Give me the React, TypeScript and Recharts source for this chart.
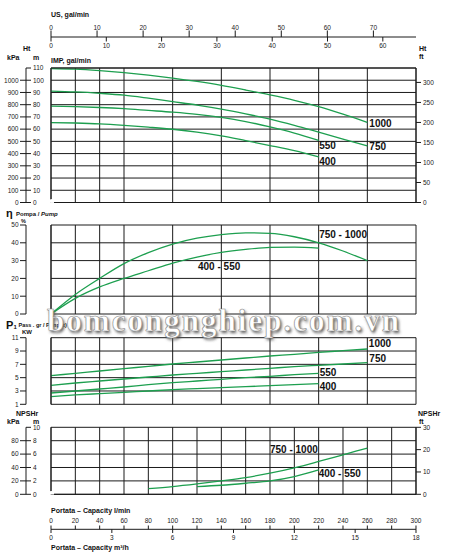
import React from "react";
import { CartesianGrid, Line, LineChart, XAxis, YAxis } from "recharts";

// Portata l/min (common x for all panels)
const qTicks = [0, 20, 40, 60, 80, 100, 120, 140, 160, 180, 200, 220, 240, 260, 280, 300];
const qLong = [0, 20, 40, 60, 80, 100, 120, 140, 160, 180, 200, 220, 240, 260];
const qShort = [0, 20, 40, 60, 80, 100, 120, 140, 160, 180, 200, 220];

// H (m)
const head1000 = [109.5, 109, 107.8, 106.2, 104.2, 101.8, 99, 95.8, 92, 88, 83.6, 78.4, 72.2, 65.5];
const head750 = [91.1, 90.4, 89.3, 87.8, 85.3, 82.5, 79.7, 76.4, 72.5, 68.2, 63.1, 57.5, 51.8, 46.2];
const head550 = [78.9, 78.4, 77.7, 76.7, 75.3, 73.9, 72.1, 69.6, 66.2, 61.8, 56.8, 50.8];
const head400 = [65.4, 65, 64.3, 63.1, 61.6, 59.9, 57.6, 54.5, 50.6, 46.6, 42.4, 37.3];

// rendimento %
const eff1000 = [0, 11, 20, 28.3, 34.5, 39.3, 42.6, 44.6, 45.6, 45.3, 43.4, 40, 35.4, 30];
const eff550 = [0, 8.8, 15.2, 20, 24.3, 28.6, 32, 34.6, 36.3, 37.4, 37.6, 37];

// P1 kW
const kw1000 = [5.3, 5.65, 6, 6.35, 6.7, 7.05, 7.35, 7.65, 7.95, 8.25, 8.5, 8.8, 9.05, 9.3];
const kw750 = [3.85, 4.2, 4.5, 4.8, 5.1, 5.4, 5.65, 5.9, 6.15, 6.4, 6.65, 6.85, 7.05, 7.25];
const kw550 = [2.7, 3, 3.3, 3.6, 3.95, 4.25, 4.5, 4.75, 5, 5.2, 5.45, 5.65];
const kw400 = [2.15, 2.4, 2.6, 2.8, 3, 3.2, 3.35, 3.5, 3.65, 3.8, 3.95, 4.1];

// NPSHr m
const npshQ1000 = [80, 100, 120, 140, 160, 180, 200, 220, 240, 260];
const npsh1000 = [0.85, 1.15, 1.55, 2, 2.5, 3.15, 3.95, 4.9, 5.9, 6.9];
const npshQ550 = [120, 140, 160, 180, 200, 220];
const npsh550 = [1.15, 1.35, 1.65, 2, 2.65, 3.65];

// axis ticks
const usTicks = [0, 10, 20, 30, 40, 50, 60, 70];
const impTicks = [0, 10, 20, 30, 40, 50, 60];
const m3hTicks = [0, 3, 6, 9, 12, 15, 18];
const mTicks = [0, 10, 20, 30, 40, 50, 60, 70, 80, 90, 100, 110];
const kpaTicks = [0, 100, 200, 300, 400, 500, 600, 700, 800, 900, 1000];
const ftTicks = [0, 50, 100, 150, 200, 250, 300];
const effTicks = [0, 10, 20, 30, 40, 50];
const kwTicks = [1, 3, 5, 7, 9, 11];
const npshMTicks = [0, 2, 4, 6, 8, 10];
const npshKpaTicks = [0, 20, 40, 60, 80];
const npshFtTicks = [0, 10, 20, 30];

const rows = (qs: number[], ys: number[]) => qs.map((q, i) => ({ q, v: ys[i] }));
const origin = [{ q: 0, v: 0 }];

const FONT = "'Liberation Sans', Arial, Helvetica, sans-serif";
const INK = "#1a1a1a";
const GREEN = "#1d9f4f";
const tickStyle = { fontSize: 6.5, fill: "#222", fontFamily: FONT };
const lblStyle = { fontSize: 10, fontWeight: 700, fill: "#111", fontFamily: FONT };

// paired scales share one rule: ticks are drawn at fixed offsets so the
// stacking order recharts picks for the two axes does not matter
const outerLeftTick = (p: any) => (
  <g>
    <line x1={20} x2={26} y1={p.y} y2={p.y} stroke={INK} />
    <text x={18.5} y={p.y} dy="0.36em" textAnchor="end" {...tickStyle}>{p.payload.value}</text>
  </g>
);
const innerLeftTick = (p: any) => (
  <g>
    <line x1={26} x2={31} y1={p.y} y2={p.y} stroke={INK} />
    <text x={33} y={p.y} dy="0.36em" textAnchor="start" {...tickStyle}>{p.payload.value}</text>
  </g>
);
const usTick = (p: any) => (
  <g>
    <line x1={p.x} x2={p.x} y1={30.5} y2={37} stroke={INK} />
    <text x={p.x} y={29.5} textAnchor="middle" {...tickStyle}>{p.payload.value}</text>
  </g>
);
const impTick = (p: any) => (
  <g>
    <line x1={p.x} x2={p.x} y1={37} y2={41.5} stroke={INK} />
    <text x={p.x} y={48} textAnchor="middle" {...tickStyle}>{p.payload.value}</text>
  </g>
);
// bottom scales (NPSH chart local y, chart top = 410)
const lminTick = (p: any) => (
  <g>
    <line x1={p.x} x2={p.x} y1={115.5} y2={119.3} stroke={INK} />
    <text x={p.x} y={113.3} textAnchor="middle" {...tickStyle}>{p.payload.value}</text>
  </g>
);
const m3hTick = (p: any) => (
  <g>
    <line x1={p.x} x2={p.x} y1={119.3} y2={123} stroke={INK} />
    <text x={p.x} y={130} textAnchor="middle" {...tickStyle}>{p.payload.value}</text>
  </g>
);

const curveLabel = (text: string, idx: number, dx: number, dy: number) => (p: any) =>
  p.index === idx ? (
    <text x={p.x + dx} y={p.y + dy} {...lblStyle}>{text}</text>
  ) : (
    <g />
  );

const curve = (key: string, data: any[], yId: string, label: any) => (
  <Line key={key} data={data} dataKey="v" xAxisId="q" yAxisId={yId} type="monotone"
    stroke={GREEN} strokeWidth={1.3} dot={false} activeDot={false} isAnimationActive={false} label={label} />
);

// invisible anchor so a secondary scale gets its ticks
const anchor = (key: string, xId: string, yId: string) => (
  <Line key={key} data={origin} dataKey="v" xAxisId={xId} yAxisId={yId} stroke="none"
    dot={false} activeDot={false} isAnimationActive={false} />
);

const qAxis = <XAxis xAxisId="q" dataKey="q" type="number" domain={[0, 300]} ticks={qTicks} hide />;

const leftAxis = (id: string, domain: number[], ticks: number[], tick: any) => (
  <YAxis yAxisId={id} type="number" domain={domain} allowDataOverflow ticks={ticks} interval={0}
    width={25} axisLine={{ stroke: INK }} tickLine={false} tick={tick} />
);

const padAxis = (
  <YAxis yAxisId="pad" type="number" domain={[0, 1]} width={25} tick={false}
    axisLine={{ stroke: INK }} tickLine={false} />
);

const rightFt = (domain: number[], ticks: number[]) => (
  <YAxis yAxisId="ft" orientation="right" type="number" domain={domain} allowDataOverflow ticks={ticks}
    interval={0} width={34} axisLine={{ stroke: INK }} tickLine={{ stroke: INK }} tickSize={5} tickMargin={2}
    tick={tickStyle} />
);

function HeadChart() {
  return (
    <LineChart width={450} height={210} margin={{ top: 6, right: 0, bottom: 7.5, left: 1 }}>
      <CartesianGrid xAxisId="q" yAxisId="m" stroke={INK} strokeWidth={1} />
      {qAxis}
      <XAxis xAxisId="imp" dataKey="q" orientation="top" type="number" domain={[0, 66]} allowDataOverflow
        ticks={impTicks} interval={0} height={31} axisLine={{ stroke: INK }} tickLine={false} tick={impTick} />
      <XAxis xAxisId="us" dataKey="q" orientation="top" type="number" domain={[0, 79.25]} allowDataOverflow
        ticks={usTicks} interval={0} height={31} axisLine={{ stroke: INK }} tickLine={false} tick={usTick} />
      {leftAxis("m", [0, 110], mTicks, innerLeftTick)}
      {leftAxis("kpa", [0, 1100], kpaTicks, outerLeftTick)}
      {rightFt([0, 336], ftTicks)}
      {curve("h1000", rows(qLong, head1000), "m", curveLabel("1000", 13, 2, 4.3))}
      {curve("h750", rows(qLong, head750), "m", curveLabel("750", 13, 2, 4))}
      {curve("h550", rows(qShort, head550), "m", curveLabel("550", 11, 0.5, 8.6))}
      {curve("h400", rows(qShort, head400), "m", curveLabel("400", 11, 0.5, 8))}
      {anchor("a-imp", "imp", "m")}
      {anchor("a-us", "us", "m")}
      {anchor("a-ft", "q", "ft")}
      {anchor("a-kpa", "q", "kpa")}
    </LineChart>
  );
}

function EffChart() {
  return (
    <LineChart width={450} height={115} margin={{ top: 20, right: 34, bottom: 6, left: 1 }}>
      <CartesianGrid xAxisId="q" yAxisId="eff" stroke={INK} strokeWidth={1} />
      {qAxis}
      {padAxis}
      {leftAxis("eff", [0, 50], effTicks, outerLeftTick)}
      {curve("e1000", rows(qLong, eff1000), "eff", curveLabel("750 - 1000", 11, 0.5, -4.5))}
      {curve("e550", rows(qShort, eff550), "eff", curveLabel("400 - 550", 6, 1, 13.3))}
    </LineChart>
  );
}

function PowerChart() {
  return (
    <LineChart width={450} height={90} margin={{ top: 17.7, right: 34, bottom: 5.7, left: 1 }}>
      <CartesianGrid xAxisId="q" yAxisId="kw" stroke={INK} strokeWidth={1} />
      {qAxis}
      {padAxis}
      {leftAxis("kw", [1, 11], kwTicks, outerLeftTick)}
      {curve("p1000", rows(qLong, kw1000), "kw", curveLabel("1000", 13, 1.5, -2.3))}
      {curve("p750", rows(qLong, kw750), "kw", curveLabel("750", 13, 2, -0.7))}
      {curve("p550", rows(qShort, kw550), "kw", curveLabel("550", 11, 1, 2.4))}
      {curve("p400", rows(qShort, kw400), "kw", curveLabel("400", 11, 1, 6.3))}
    </LineChart>
  );
}

function NpshChart() {
  return (
    <LineChart width={450} height={154.3} margin={{ top: 17.3, right: 0, bottom: 0, left: 1 }}>
      <CartesianGrid xAxisId="q" yAxisId="npm" stroke={INK} strokeWidth={1} />
      <XAxis xAxisId="q" dataKey="q" type="number" domain={[0, 300]} ticks={qTicks} interval={0}
        height={35} axisLine={{ stroke: INK }} tickLine={false} tick={lminTick} />
      <XAxis xAxisId="m3h" dataKey="q" type="number" domain={[0, 18]} allowDataOverflow ticks={m3hTicks}
        interval={0} height={35} axisLine={{ stroke: INK }} tickLine={false} tick={m3hTick} />
      {leftAxis("npm", [0, 10], npshMTicks, innerLeftTick)}
      {leftAxis("npkpa", [0, 100], npshKpaTicks, outerLeftTick)}
      {rightFt([0, 30], npshFtTicks)}
      {curve("n1000", rows(npshQ1000, npsh1000), "npm", curveLabel("750 - 1000", 5, 0, -20.5))}
      {curve("n550", rows(npshQ550, npsh550), "npm", curveLabel("400 - 550", 5, 0, 7.2))}
      {anchor("a-m3h", "m3h", "npm")}
      {anchor("a-ft", "q", "ft")}
      {anchor("a-kpa", "q", "npkpa")}
    </LineChart>
  );
}

const hdr = { fontFamily: FONT, fontWeight: 700, fill: "#111" } as const;
const WM_FONT = "'Liberation Serif', 'DejaVu Serif', 'Times New Roman', serif";

function Overlay() {
  return (
    <svg width={450} height={555} style={{ position: "absolute", left: 0, top: 0, pointerEvents: "none" }}>
      <defs>
        <filter id="wm" x="-5%" y="-30%" width="110%" height="160%">
          <feGaussianBlur stdDeviation="1.4" />
        </filter>
      </defs>
      <text x={51} y={16.5} fontSize={7} {...hdr}>US, gal/min</text>
      <text x={23} y={51} fontSize={7} {...hdr}>Ht</text>
      <text x={7} y={59.5} fontSize={7} {...hdr}>kPa</text>
      <text x={33} y={59.5} fontSize={7} {...hdr}>m</text>
      <text x={51} y={63} fontSize={7} {...hdr}>IMP, gal/min</text>
      <text x={419} y={50.5} fontSize={7} {...hdr}>Ht</text>
      <text x={419} y={58.5} fontSize={7} {...hdr}>ft</text>

      <text x={6} y={216.5} fontSize={11} {...hdr}>η</text>
      <text x={16} y={216} fontSize={6} {...hdr}>Pompa / <tspan fontStyle="italic">Pump</tspan></text>
      <text x={21} y={223} fontSize={5.5} {...hdr}>%</text>

      <text x={6} y={328.5} fontSize={11} {...hdr}>P</text>
      <text x={13.5} y={328.5} fontSize={6} {...hdr}>1</text>
      <text x={18.5} y={327} fontSize={5.5} {...hdr}>Pass . gr / P(input)</text>
      <text x={22} y={334} fontSize={6} {...hdr}>KW</text>

      <text x={16} y={416} fontSize={7} {...hdr}>NPSHr</text>
      <text x={7} y={423.5} fontSize={7} {...hdr}>kPa</text>
      <text x={33} y={423.5} fontSize={7} {...hdr}>m</text>
      <text x={418} y={416} fontSize={7} {...hdr}>NPSHr</text>
      <text x={419} y={423.5} fontSize={7} {...hdr}>ft</text>

      <text x={51} y={512.5} fontSize={7} {...hdr}>Portata – Capacity l/min</text>
      <text x={51} y={549.5} fontSize={7} {...hdr}>Portata – Capacity m³/h</text>

      <text x={48.5} y={332.5} fontSize={31} fontWeight={700} fontFamily={WM_FONT}
        textLength={352} lengthAdjust="spacing" fill="#555" filter="url(#wm)">bomcongnghiep.com.vn</text>
      <text x={47} y={330.5} fontSize={31} fontWeight={700} fontFamily={WM_FONT}
        textLength={352} lengthAdjust="spacing" fill="#ffffff" stroke="#8a8a8a" strokeWidth={0.6}>bomcongnghiep.com.vn</text>
    </svg>
  );
}

export default function App() {
  return (
    <div style={{ position: "absolute", left: 0, top: 0, width: 450, height: 555, background: "#fff", overflow: "hidden" }}>
      <div style={{ position: "absolute", left: 0, top: 0 }}><HeadChart /></div>
      <div style={{ position: "absolute", left: 0, top: 205 }}><EffChart /></div>
      <div style={{ position: "absolute", left: 0, top: 320 }}><PowerChart /></div>
      <div style={{ position: "absolute", left: 0, top: 410 }}><NpshChart /></div>
      <Overlay />
    </div>
  );
}
